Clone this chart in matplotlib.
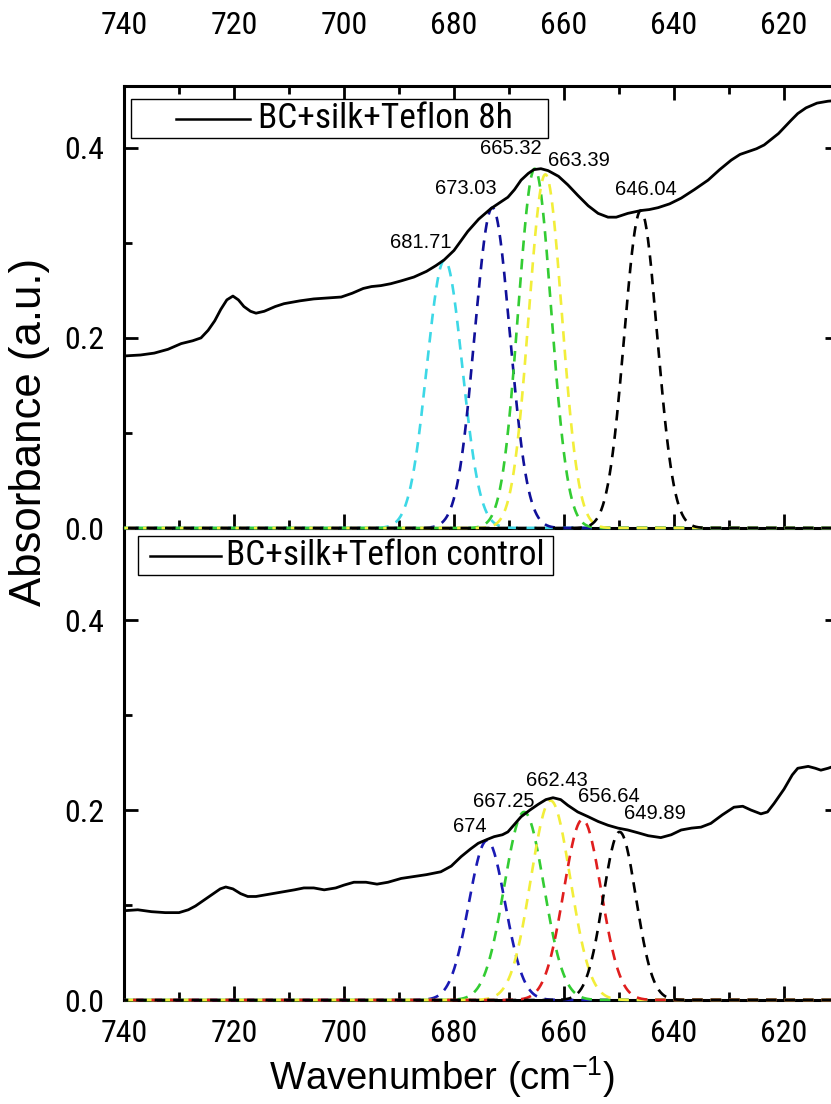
import os
import numpy as np
import matplotlib
matplotlib.use('Agg')
import matplotlib.pyplot as plt
from matplotlib import font_manager
from matplotlib.font_manager import FontProperties
from matplotlib.patches import Rectangle
from matplotlib.ticker import MultipleLocator

# ------------------------------------------------------------------
# data
# top panel: BC+silk+Teflon 8h
wn_8h = [740, 737, 734.5, 732, 729.6, 727.5, 726, 724.7, 723.5, 722.4, 721.3, 720.2,
         719.2, 718.2, 717, 716, 714.5, 712.5, 710.9, 708, 705.5, 703, 700.5, 698.5,
         696.5, 695, 693.3, 691.5, 689.6, 687.3, 685, 683.3, 681.8, 680, 678.5, 677.5,
         675.5, 673.3, 671.5, 670.2, 669, 667.8, 666.5, 665.5, 664.2, 662.9, 661,
         659.3, 657.5, 655.6, 653.8, 652, 650.5, 648.4, 646, 644.5, 642.9, 640.8,
         638.7, 636.3, 633.8, 631.7, 629.6, 628, 626.5, 625, 623.6, 621, 618.7, 617.5,
         616, 614, 612, 610]
abs_8h = [0.181, 0.182, 0.184, 0.188, 0.194, 0.197, 0.200, 0.208, 0.218, 0.230, 0.240, 0.244,
          0.240, 0.233, 0.228, 0.226, 0.228, 0.233, 0.236, 0.239, 0.241, 0.242, 0.243, 0.247,
          0.252, 0.254, 0.255, 0.257, 0.260, 0.264, 0.270, 0.276, 0.282, 0.292, 0.304, 0.312,
          0.325, 0.336, 0.343, 0.348, 0.356, 0.366, 0.373, 0.377, 0.378, 0.376, 0.370,
          0.361, 0.350, 0.339, 0.331, 0.327, 0.327, 0.331, 0.334, 0.335, 0.337, 0.341,
          0.347, 0.356, 0.366, 0.377, 0.387, 0.393, 0.396, 0.399, 0.403, 0.415, 0.429, 0.436,
          0.442, 0.447, 0.449, 0.450]

# bottom panel: BC+silk+Teflon control
wn_ctrl = [740, 737.5, 735, 732.5, 730, 728.3, 727, 725.5, 724, 722.5, 721.5, 720.2,
           718.8, 717.5, 716, 714, 711, 709, 707.3, 705.5, 703.6, 701.5, 700, 698.2,
           696, 694, 692, 689.6, 687.3, 685, 682.4, 680.5, 678.7, 677, 675.6, 674,
           672.7, 671.2, 670.2, 669, 667.8, 666.2, 664.7, 663.3, 662, 660.6, 659.3,
           657.5, 655.6, 653.8, 652, 650.2, 648.4, 646.5, 644.7, 642.4, 640.5, 638.7,
           636.8, 635.1, 633.3, 631.2, 629.1, 627.5, 626, 624.2, 623, 621.8, 620, 618.5,
           617.5, 615.6, 614.3, 613.3, 612, 610]
abs_ctrl = [0.094, 0.095, 0.093, 0.092, 0.092, 0.095, 0.099, 0.105, 0.111, 0.117, 0.119, 0.117,
            0.112, 0.109, 0.109, 0.111, 0.114, 0.116, 0.118, 0.118, 0.116, 0.118, 0.121, 0.124,
            0.124, 0.122, 0.124, 0.128, 0.130, 0.132, 0.135, 0.141, 0.151, 0.159, 0.165, 0.169,
            0.172, 0.174, 0.177, 0.185, 0.193, 0.200, 0.206, 0.211, 0.213, 0.211, 0.205,
            0.198, 0.193, 0.188, 0.184, 0.181, 0.179, 0.176, 0.173, 0.171, 0.174, 0.179,
            0.181, 0.182, 0.186, 0.195, 0.203, 0.204, 0.200, 0.196, 0.198, 0.207, 0.222, 0.237,
            0.244, 0.246, 0.244, 0.242, 0.244, 0.248]

# fitted gaussian components: centre, height, width (sigma)
peaks_8h_center = [681.71, 673.03, 665.32, 663.39, 646.04]
peaks_8h_height = [0.282, 0.337, 0.378, 0.372, 0.334]
peaks_8h_sigma = [3.2, 3.2, 3.0, 3.0, 3.0]
peaks_8h_label = ['681.71', '673.03', '665.32', '663.39', '646.04']

peaks_ctrl_center = [674.0, 667.25, 662.43, 656.64, 649.89]
peaks_ctrl_height = [0.168, 0.198, 0.210, 0.190, 0.177]
peaks_ctrl_sigma = [3.3, 3.6, 3.6, 3.4, 3.0]
peaks_ctrl_label = ['674', '667.25', '662.43', '656.64', '649.89']

# ------------------------------------------------------------------
# styles / layout
col_8h = ['#3dd8e6', '#10109a', '#33cc33', '#f2ee3a', 'black']
col_ctrl = ['#1a1ab4', '#33cc33', '#f2ee3a', '#e01e1e', 'black']
txt_8h = [(686.0, 0.300), (677.8, 0.357), (669.6, 0.399), (657.3, 0.387), (645.1, 0.356)]
txt_ctrl = [(677.1, 0.183), (670.9, 0.209), (661.3, 0.231), (651.8, 0.214), (643.5, 0.196)]

plt.rcParams['font.family'] = ['Liberation Sans', 'DejaVu Sans']
plt.rcParams['mathtext.fontset'] = 'custom'
plt.rcParams['mathtext.rm'] = 'Liberation Sans'

# look for a condensed sans for the tick labels / legend (the original used Arial Narrow)
narrow_path = None
wanted = ['LiberationSansNarrow-Regular', 'ArialNarrow', 'Arial Narrow', 'RobotoCondensed-Regular',
          'NotoSans-Condensed.', 'NotoSans-CondensedRegular', 'OpenSans_Condensed-Regular',
          'OpenSansCondensed-Regular', 'DejaVuSansCondensed.ttf']
all_files = font_manager.findSystemFonts()
for w in wanted:
    hits = [f for f in all_files if w in os.path.basename(f)]
    if hits:
        narrow_path = hits[0]
        break


def tick_font(size):
    if narrow_path:
        return FontProperties(fname=narrow_path, size=size)
    return FontProperties(family='Liberation Sans', size=size * 0.88)


W, H = 831, 1104
fig = plt.figure(figsize=(W / 100, H / 100), dpi=100)
left, right = 124 / W, 839 / W
ax1 = fig.add_axes([left, 1 - 528 / H, right - left, (528 - 86) / H])
ax2 = fig.add_axes([left, 1 - 1000 / H, right - left, (1000 - 528) / H])

xfine = np.linspace(610, 740, 1300)


def px2ax(ax, px, py, top, bot):
    return (px - 124) / 715, (bot - py) / (bot - top)


def draw_panel(ax, wn, ab, cen, hgt, sig, labs, cols, tpos, name, ymax, top, bot, box):
    for c, h, s, col in zip(cen, hgt, sig, cols):
        g = h * np.exp(-0.5 * ((xfine - c) / s) ** 2)
        ax.plot(xfine, g, color=col, lw=1.9, dashes=(4, 3), zorder=3, clip_on=False)
    ax.plot(wn, ab, color='black', lw=2.0, zorder=4, solid_joinstyle='round')
    for lab, (tx, ty) in zip(labs, tpos):
        ax.text(tx, ty, lab, ha='center', va='center', fontsize=14.5, zorder=5)
    ax.set_xlim(740, 610)
    ax.set_ylim(0, ymax)
    ax.xaxis.set_major_locator(MultipleLocator(20))
    ax.xaxis.set_minor_locator(MultipleLocator(10))
    ax.yaxis.set_major_locator(MultipleLocator(0.2))
    ax.yaxis.set_minor_locator(MultipleLocator(0.1))
    for sp in ax.spines.values():
        sp.set_linewidth(2.2)
    ax.tick_params(which='both', direction='in', width=2, right=True, left=True)
    ax.tick_params(which='major', length=10)
    ax.tick_params(which='minor', length=6)
    ax.tick_params(axis='y', pad=14)
    for t in ax.get_xticklabels() + ax.get_yticklabels():
        t.set_fontproperties(tick_font(23))

    # legend box drawn by hand so it sits where the original one is
    bx0, by0, bx1, by1, lx0, lx1, tx0 = box
    x0, y0 = px2ax(ax, bx0, by1, top, bot)
    x1, y1 = px2ax(ax, bx1, by0, top, bot)
    ax.add_patch(Rectangle((x0, y0), x1 - x0, y1 - y0, transform=ax.transAxes,
                           facecolor='white', edgecolor='black', lw=1.0, zorder=6))
    ymid = (y0 + y1) / 2
    la, _ = px2ax(ax, lx0, 0, top, bot)
    lb, _ = px2ax(ax, lx1, 0, top, bot)
    ax.plot([la, lb], [ymid, ymid], transform=ax.transAxes, color='black', lw=1.8, zorder=7)
    ta, _ = px2ax(ax, tx0, 0, top, bot)
    ax.text(ta, ymid, name, transform=ax.transAxes, ha='left', va='center',
            fontproperties=tick_font(25.5), zorder=7)


draw_panel(ax1, wn_8h, abs_8h, peaks_8h_center, peaks_8h_height, peaks_8h_sigma,
           peaks_8h_label, col_8h, txt_8h, 'BC+silk+Teflon 8h', 0.465, 86, 528,
           (131, 99, 548, 138, 176, 250, 258))
draw_panel(ax2, wn_ctrl, abs_ctrl, peaks_ctrl_center, peaks_ctrl_height, peaks_ctrl_sigma,
           peaks_ctrl_label, col_ctrl, txt_ctrl, 'BC+silk+Teflon control', 0.497, 528, 1000,
           (138, 536, 553, 575, 150, 221, 226))

ax1.tick_params(axis='x', which='both', top=True, bottom=True, labeltop=True, labelbottom=False, pad=33)
ax2.tick_params(axis='x', which='both', top=False, bottom=True, labeltop=False, labelbottom=True, pad=14)
ax1.set_zorder(1)
ax2.set_zorder(0)
for t in ax1.get_xticklabels(which='both') + ax2.get_xticklabels(which='both'):
    t.set_fontproperties(tick_font(23))

fig.text(30 / W, 1 - 432 / H, 'Absorbance (a.u.)', rotation=90, ha='center', va='center', fontsize=31.5)
fig.text(442 / W, 1 - 1077 / H, r'Wavenumber (cm$^{\mathregular{-1}}$)', ha='center', va='center',
         fontsize=27.5)

fig.savefig('out.png', dpi=100)
